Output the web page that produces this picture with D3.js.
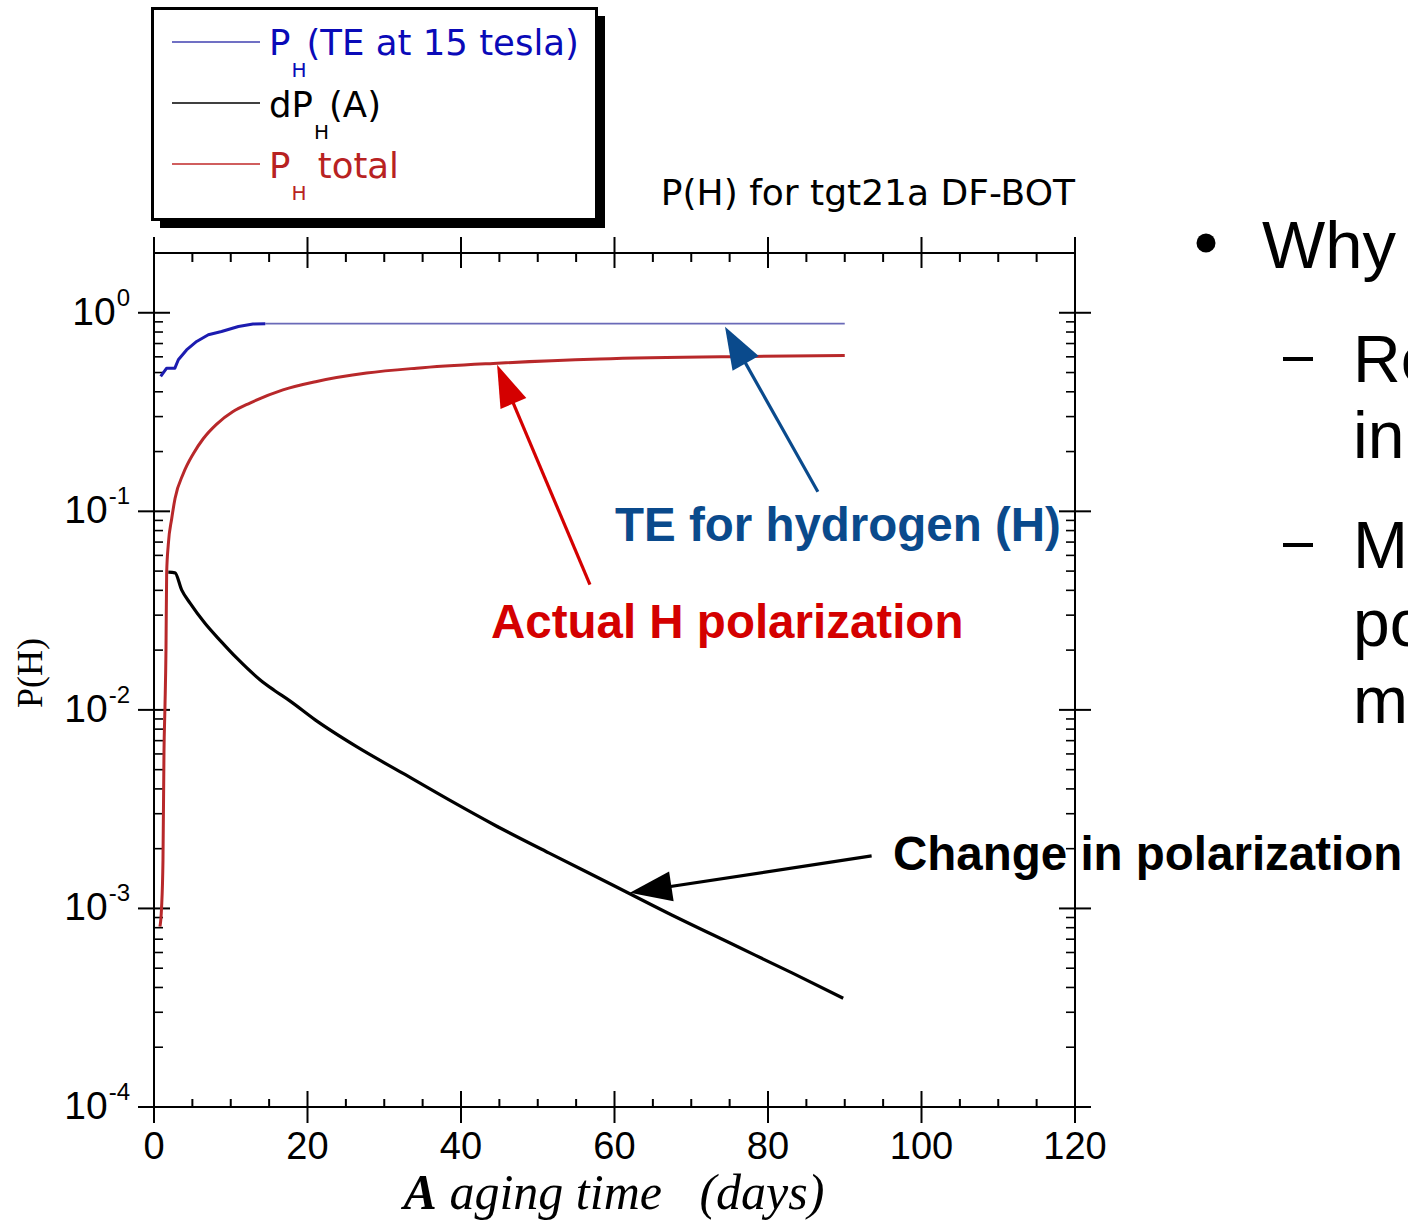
<!DOCTYPE html>
<html><head><meta charset="utf-8">
<script src="https://cdn.jsdelivr.net/npm/d3@7"></script>
<style>
html,body{margin:0;padding:0;background:#fff;overflow:hidden;}
svg{display:block;}
</style></head>
<body>
<svg id="c" width="1408" height="1223"></svg>
<script>
// ---- data ----
const teDays   = [0.87, 1.65, 2.72, 3.17, 4.24, 5.56, 7.08, 8.8, 11.0, 12.9, 14.5];
const teValues = [0.478, 0.526, 0.526, 0.58, 0.65, 0.717, 0.775, 0.805, 0.853, 0.877, 0.88];
const teTailDays   = [14.5, 90];
const teTailValues = [0.882, 0.882];

const totalDays   = [0.78, 0.98, 1.17, 1.3, 1.43, 1.56, 1.65, 1.86, 2.31, 2.74, 3.82, 5.12, 6.41, 8.17, 10.3, 12.5, 16.8, 21.2, 27.7, 34.2, 44.2, 58.1, 78.0, 90];
const totalValues = [0.00081, 0.001, 0.00175, 0.0061, 0.0104, 0.02, 0.049, 0.068, 0.092, 0.116, 0.155, 0.195, 0.232, 0.275, 0.318, 0.351, 0.409, 0.451, 0.497, 0.526, 0.556, 0.585, 0.603, 0.61];

const dpDays   = [1.86, 2.74, 3.6, 4.7, 6.64, 8.7, 10.8, 13.8, 15.6, 17.7, 21.0, 26.4, 32.4, 38.4, 44.3, 51.5, 59.3, 67.0, 76.0, 83.2, 89.8];
const dpValues = [0.0494, 0.049, 0.0402, 0.0345, 0.0273, 0.0222, 0.0182, 0.0142, 0.0126, 0.0111, 0.00891, 0.00653, 0.0048, 0.00353, 0.00264, 0.0019, 0.00134, 0.000946, 0.000643, 0.000472, 0.000353];

const xTicks = [0, 20, 40, 60, 80, 100, 120];
const yTickExps = [0, -1, -2, -3, -4];
const chartTitle = "P(H) for tgt21a DF-BOT";
const yTitle = "P(H)";

// annotation arrows in data coordinates: [tailDay, tailValue, tipDay, tipValue]
const annTE     = [86.5, 0.1254, 74.4, 0.85];
const annActual = [56.8, 0.0427, 44.7, 0.547];
const annChange = [93.5, 0.00184, 62.0, 0.0012];

const slideLines = ["Why", "Re", "in", "M", "po", "m"];

// ---- scales ----
const svg = d3.select("#c");
const x = d3.scaleLinear().domain([0, 120]).range([154, 1075]);
const y = d3.scaleLog().domain([1e-4, 2]).range([1107, 253]);
const X0 = x(0), X1 = x(120), Y0 = y(1e-4), Y1 = y(2);

// ---- frame ----
const frame = svg.append("g").attr("stroke", "#000").attr("stroke-width", 2);
frame.append("line").attr("x1", X0).attr("x2", X1).attr("y1", Y0).attr("y2", Y0);
frame.append("line").attr("x1", X0).attr("x2", X1).attr("y1", Y1).attr("y2", Y1);
frame.append("line").attr("x1", X0).attr("x2", X0).attr("y1", Y1).attr("y2", Y0);
frame.append("line").attr("x1", X1).attr("x2", X1).attr("y1", Y1).attr("y2", Y0);

// x ticks (bottom & top)
const xMinor = d3.range(0, 121, 5).filter(d => d % 20 !== 0);
xTicks.forEach(d => {
  frame.append("line").attr("x1", x(d)).attr("x2", x(d)).attr("y1", Y0 - 16).attr("y2", Y0 + 16);
  frame.append("line").attr("x1", x(d)).attr("x2", x(d)).attr("y1", Y1 - 16).attr("y2", Y1 + 15);
});
xMinor.forEach(d => {
  frame.append("line").attr("x1", x(d)).attr("x2", x(d)).attr("y1", Y0 - 8).attr("y2", Y0);
  frame.append("line").attr("x1", x(d)).attr("x2", x(d)).attr("y1", Y1).attr("y2", Y1 + 9);
});
// y ticks (left & right)
const yMinor = [];
for (let e = -4; e < 1; e++) for (let m = 2; m <= 9; m++) { const v = m * Math.pow(10, e); if (v <= 2) yMinor.push(v); }
yTickExps.forEach(e => {
  const v = Math.pow(10, e);
  frame.append("line").attr("x1", X0 - 16).attr("x2", X0 + 16).attr("y1", y(v)).attr("y2", y(v));
  frame.append("line").attr("x1", X1 - 16).attr("x2", X1 + 16).attr("y1", y(v)).attr("y2", y(v));
});
yMinor.forEach(v => {
  frame.append("line").attr("x1", X0).attr("x2", X0 + 9).attr("y1", y(v)).attr("y2", y(v)).attr("stroke-width", 1.6);
  frame.append("line").attr("x1", X1 - 9).attr("x2", X1).attr("y1", y(v)).attr("y2", y(v)).attr("stroke-width", 1.6);
});

// tick labels
const tickFont = "'Liberation Sans', Arial, sans-serif";
svg.append("g").selectAll("text").data(xTicks).join("text")
  .attr("x", d => x(d)).attr("y", Y0 + 52).attr("text-anchor", "middle")
  .attr("font-family", tickFont).attr("font-size", 38).attr("fill", "#000").text(d => d);
const yl = svg.append("g").selectAll("text").data(yTickExps).join("text")
  .attr("x", 130).attr("y", e => y(Math.pow(10, e)) + 12).attr("text-anchor", "end")
  .attr("font-family", tickFont).attr("font-size", 39).attr("fill", "#000");
yl.append("tspan").text("10");
yl.append("tspan").attr("dy", -19).attr("font-size", 24).attr("dx", 1).text(e => String(e));

// axis titles
svg.append("text").attr("transform", `translate(42,${673}) rotate(-90)`).attr("text-anchor", "middle")
  .attr("font-family", "'Liberation Serif', 'Times New Roman', serif").attr("font-size", 36).attr("fill", "#000").text(yTitle);
const xt = svg.append("text").attr("x", 614).attr("y", 1209).attr("text-anchor", "middle")
  .attr("font-family", "'Liberation Serif', 'Times New Roman', serif").attr("font-style", "italic")
  .attr("font-size", 50).attr("fill", "#000").style("white-space", "pre");
xt.append("tspan").attr("font-weight", "bold").text("A");
xt.append("tspan").text(" aging time   (days)");

// chart title
svg.append("text").attr("x", 1075).attr("y", 205).attr("text-anchor", "end")
  .attr("font-family", "'DejaVu Sans', Verdana, sans-serif").attr("font-size", 36).attr("fill", "#000").text(chartTitle);

// ---- lines ----
const line = d3.line().x(d => x(d[0])).y(d => y(d[1]));
const smooth = d3.line().x(d => x(d[0])).y(d => y(d[1])).curve(d3.curveMonotoneX);
const zip = (a, b) => a.map((d, i) => [d, b[i]]);
svg.append("path").datum(zip(teTailDays, teTailValues)).attr("d", line)
  .attr("fill", "none").attr("stroke", "#6a6ab8").attr("stroke-width", 1.6);
svg.append("path").datum(zip(teDays, teValues)).attr("d", line)
  .attr("fill", "none").attr("stroke", "#1c1cb0").attr("stroke-width", 3).attr("stroke-linejoin", "round");
svg.append("path").datum(zip(dpDays, dpValues)).attr("d", smooth)
  .attr("fill", "none").attr("stroke", "#000").attr("stroke-width", 3.2).attr("stroke-linejoin", "round");
svg.append("path").datum(zip(totalDays, totalValues)).attr("d", smooth)
  .attr("fill", "none").attr("stroke", "#b8282a").attr("stroke-width", 3).attr("stroke-linejoin", "round");

// ---- annotations ----
function arrow(a, color, headLen, headW) {
  const x1 = x(a[0]), y1 = y(a[1]), x2 = x(a[2]), y2 = y(a[3]);
  const ang = Math.atan2(y2 - y1, x2 - x1);
  const bx = x2 - headLen * Math.cos(ang), by = y2 - headLen * Math.sin(ang);
  const px = -Math.sin(ang) * headW / 2, py = Math.cos(ang) * headW / 2;
  svg.append("line").attr("x1", x1).attr("y1", y1).attr("x2", bx + headLen * 0.3 * Math.cos(ang)).attr("y2", by + headLen * 0.3 * Math.sin(ang))
    .attr("stroke", color).attr("stroke-width", 3.2);
  svg.append("polygon").attr("points", `${x2},${y2} ${bx + px},${by + py} ${bx - px},${by - py}`).attr("fill", color);
}
arrow(annTE, "#0a4a8c", 42, 30);
arrow(annActual, "#d40000", 42, 28);
arrow(annChange, "#000", 42, 30);

const annFont = "'Liberation Sans', Arial, sans-serif";
svg.append("text").attr("x", 615).attr("y", 541).attr("font-family", annFont).attr("font-weight", "bold")
  .attr("font-size", 47.5).attr("fill", "#0a4a8c").text("TE for hydrogen (H)");
svg.append("text").attr("x", 491).attr("y", 638).attr("font-family", annFont).attr("font-weight", "bold")
  .attr("font-size", 47.5).attr("fill", "#d40000").text("Actual H polarization");
svg.append("text").attr("x", 893).attr("y", 870).attr("font-family", annFont).attr("font-weight", "bold")
  .attr("font-size", 47.5).attr("fill", "#000").text("Change in polarization");

// ---- legend ----
const lg = svg.append("g");
lg.append("rect").attr("x", 160).attr("y", 16).attr("width", 445).attr("height", 212).attr("fill", "#000");
lg.append("rect").attr("x", 152.5).attr("y", 8.5).attr("width", 444).attr("height", 211).attr("fill", "#fff").attr("stroke", "#000").attr("stroke-width", 3);
const legFont = "'DejaVu Sans', Verdana, sans-serif";
const legendItems = [
  {color: "#4040b0", text: "#0a0ab8", ly: 42, pre: "P", post: "(TE at 15 tesla)", base: 55},
  {color: "#000", text: "#000", ly: 103, pre: "dP", post: "(A)", base: 117},
  {color: "#c02828", text: "#b82222", ly: 164, pre: "P", post: " total", base: 178}
];
legendItems.forEach(it => {
  lg.append("line").attr("x1", 172).attr("x2", 260).attr("y1", it.ly).attr("y2", it.ly).attr("stroke", it.color).attr("stroke-width", 1.6);
  const t = lg.append("text").attr("x", 269).attr("y", it.base).attr("font-family", legFont).attr("font-size", 35.5)
    .attr("fill", it.text).style("white-space", "pre");
  t.append("tspan").text(it.pre);
  t.append("tspan").attr("dy", 22).attr("font-size", 20).attr("dx", 1).text("H");
  t.append("tspan").attr("dy", -22).text(it.post);
});

// ---- slide text on right ----
const sf = "'Liberation Sans', Arial, sans-serif";
svg.append("circle").attr("cx", 1206).attr("cy", 243).attr("r", 9.5).attr("fill", "#000");
svg.append("text").attr("x", 1262).attr("y", 268).attr("font-family", sf).attr("font-size", 67).attr("fill", "#000").text(slideLines[0]);
[359, 545].forEach(yy => svg.append("rect").attr("x", 1283).attr("y", yy - 2).attr("width", 30).attr("height", 4).attr("fill", "#000"));
const sub = [[slideLines[1], 382], [slideLines[2], 458], [slideLines[3], 568], [slideLines[4], 646], [slideLines[5], 723]];
sub.forEach(s => svg.append("text").attr("x", 1353).attr("y", s[1]).attr("font-family", sf).attr("font-size", 66).attr("fill", "#000").text(s[0]));
</script>
</body></html>
